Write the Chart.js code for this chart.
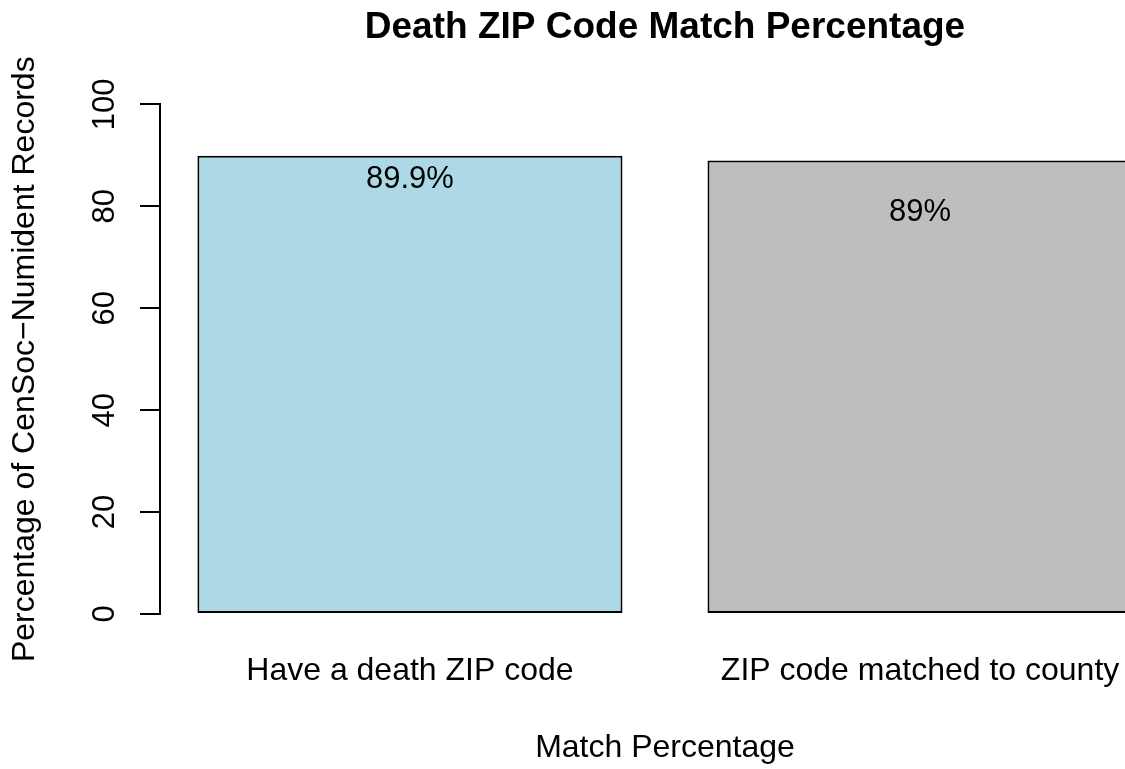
<!DOCTYPE html>
<html><head><meta charset="utf-8">
<script src="https://cdn.jsdelivr.net/npm/chart.js@4.4.1/dist/chart.umd.min.js"></script>
<style>
html,body{margin:0;padding:0;background:#fff;overflow:hidden;}
#wrap{width:1125px;height:769px;overflow:hidden;position:relative;background:#fff;}
canvas{display:block;}
</style></head><body>
<div id="wrap"><canvas id="c" width="1170" height="769"></canvas></div>
<script>
// ---- data ----
const categories = ["Have a death ZIP code", "ZIP code matched to county"];
const matchPercent = [89.9, 89.0];
const valueLabels = ["89.9%", "89%"];
const barColors = ["#ADD8E6", "#BEBEBE"];
const yTickValues = [0, 20, 40, 60, 80, 100];
const chartTitle = "Death ZIP Code Match Percentage";
const xAxisTitle = "Match Percentage";
const yAxisTitle = "Percentage of CenSoc\u2212Numident Records";

// ---- layout (R barplot style: width 1, space 0.2, 4% axis extension) ----
const barSpace = 0.2;
const centers = categories.map((_, i) => barSpace + i * (1 + barSpace) + 0.5);
const lo = barSpace, hi = categories.length * (1 + barSpace);
const ext = 0.04 * (hi - lo);
const FONT = '"Liberation Sans", Arial, Helvetica, sans-serif';

Chart.defaults.color = '#000';
Chart.defaults.font.family = FONT;

const valueLabelPlugin = {
  id: 'valueLabels',
  afterDatasetsDraw(chart, args, opts) {
    const ctx = chart.ctx;
    const meta = chart.getDatasetMeta(0);
    const y = chart.scales.y;
    ctx.save();
    ctx.font = opts.font;
    ctx.fillStyle = '#000';
    ctx.textAlign = 'center';
    ctx.textBaseline = 'middle';
    meta.data.forEach((bar, i) => {
      ctx.fillText(valueLabels[i], bar.x, y.getPixelForValue(matchPercent[i]) + opts.drops[i]);
    });
    ctx.restore();
  }
};

new Chart(document.getElementById('c'), {
  type: 'bar',
  data: {
    datasets: [{
      data: centers.map((x, i) => ({ x: x, y: matchPercent[i] })),
      backgroundColor: barColors,
      borderColor: '#000',
      borderWidth: 2,
      borderSkipped: false,
      barPercentage: 1,
      categoryPercentage: 1 / (1 + barSpace)
    }]
  },
  options: {
    responsive: false,
    animation: false,
    devicePixelRatio: 1,
    layout: { padding: { left: 0, right: 0, top: 0, bottom: 0 } },
    plugins: {
      legend: { display: false },
      tooltip: { enabled: false },
      title: {
        display: true,
        text: chartTitle,
        fullSize: false,
        color: '#000',
        font: { family: FONT, size: 37, weight: 'bold' },
        padding: { top: 6, bottom: 54 }
      },
      valueLabels: { font: '31px ' + FONT, drops: [24, 52] }
    },
    scales: {
      x: {
        type: 'linear',
        offset: false,
        min: lo - ext,
        max: hi + ext,
        bounds: 'data',
        afterBuildTicks: (s) => { s.ticks = centers.map(v => ({ value: v })); },
        afterFit: (s) => { s.height = 155; },
        grid: { display: false },
        border: { display: false },
        ticks: {
          autoSkip: false, maxRotation: 0, minRotation: 0, padding: 30,
          font: { family: FONT, size: 32 }, color: '#000',
          callback: (v, i) => categories[i]
        },
        title: {
          display: true, text: xAxisTitle, color: '#000',
          font: { family: FONT, size: 32 }, padding: { top: 0, bottom: 2 }
        }
      },
      y: {
        min: 0,
        max: 100,
        afterBuildTicks: (s) => { s.ticks = yTickValues.map(v => ({ value: v })); },
        afterFit: (s) => { s.width = 160; },
        grid: { display: true, drawOnChartArea: false, drawTicks: true, tickLength: 20, color: '#000', lineWidth: 2 },
        border: { display: true, color: '#000', width: 2 },
        ticks: {
          minRotation: 90, maxRotation: 90, crossAlign: 'center', padding: 9,
          font: { family: FONT, size: 31 }, color: '#000',
          callback: (v) => String(v)
        },
        title: {
          display: true, text: yAxisTitle, color: '#000',
          font: { family: FONT, size: 32 }, padding: { top: 6, bottom: 0 }
        }
      }
    }
  },
  plugins: [valueLabelPlugin]
});
</script>
</body></html>
